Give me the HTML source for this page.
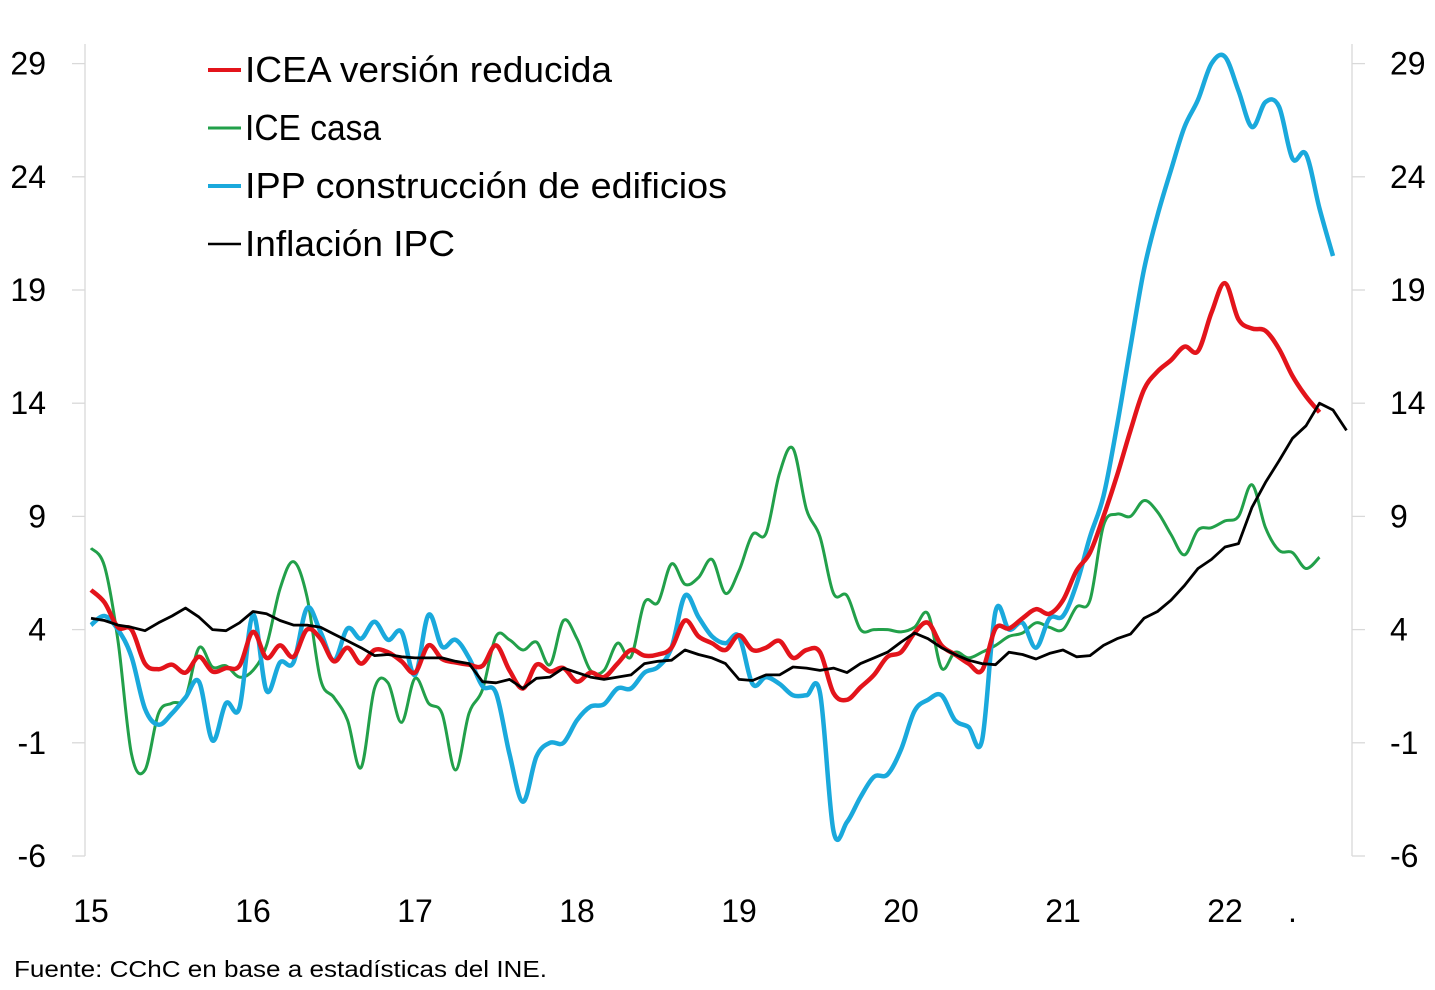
<!DOCTYPE html>
<html><head><meta charset="utf-8"><style>
html,body{margin:0;padding:0;background:#fff;}
svg{display:block;font-family:"Liberation Sans",sans-serif;}
</style></head><body>
<svg id="chart" width="1435" height="990" viewBox="0 0 1435 990" xmlns="http://www.w3.org/2000/svg">
<g id="axes"></g>
<g id="series"></g>
<g id="legend">
<line x1="208" y1="70" x2="241" y2="70" stroke="#e3141b" stroke-width="4"/>
<text x="245" y="82" font-size="36" textLength="367" lengthAdjust="spacingAndGlyphs">ICEA versión reducida</text>
<line x1="208" y1="128" x2="241" y2="128" stroke="#22a04a" stroke-width="3"/>
<text x="245" y="140" font-size="36" textLength="136" lengthAdjust="spacingAndGlyphs">ICE casa</text>
<line x1="208" y1="186" x2="241" y2="186" stroke="#1aa9dc" stroke-width="4"/>
<text x="245" y="198" font-size="36" textLength="482" lengthAdjust="spacingAndGlyphs">IPP construcción de edificios</text>
<line x1="208" y1="244" x2="241" y2="244" stroke="#000" stroke-width="2.5"/>
<text x="245" y="256" font-size="36" textLength="210" lengthAdjust="spacingAndGlyphs">Inflación IPC</text>
</g>
<text x="14" y="977" font-size="23" textLength="533" lengthAdjust="spacingAndGlyphs">Fuente: CChC en base a estadísticas del INE.</text>
</svg>
<script>
const yTicks = [-6, -1, 4, 9, 14, 19, 24, 29];
const xLabels = ["15","16","17","18","19","20","21","22","."];
const xLabelMonths = [0,12,24,36,48,60,72,84,89];
const icea = [5.75,5.2,4.1,4.0,2.5,2.25,2.45,2.1,2.8,2.15,2.3,2.4,3.9,2.75,3.3,2.8,4.0,3.6,2.6,3.2,2.5,3.1,3.0,2.6,2.1,3.3,2.7,2.55,2.45,2.4,3.3,2.2,1.4,2.45,2.15,2.3,1.7,2.1,1.9,2.5,3.1,2.85,2.9,3.2,4.4,3.7,3.4,3.1,3.75,3.1,3.2,3.5,2.75,3.1,3.0,1.2,0.9,1.45,2.0,2.8,3.0,3.85,4.3,3.3,2.9,2.5,2.2,4.05,4.05,4.5,4.9,4.7,5.3,6.6,7.4,9.0,10.8,12.8,14.6,15.4,15.9,16.5,16.3,18.0,19.3,17.7,17.3,17.2,16.4,15.2,14.3,13.6];
const iceCasa = [7.6,6.8,3.5,-1.5,-2.2,0.3,0.75,1.0,3.2,2.35,2.4,1.9,2.2,3.3,5.8,7.0,5.45,1.8,1.0,0.0,-2.1,1.4,1.65,-0.1,1.85,0.75,0.3,-2.2,0.3,1.35,3.7,3.55,3.1,3.45,2.45,4.4,3.6,2.2,2.2,3.4,2.8,5.2,5.2,6.9,6.0,6.3,7.1,5.6,6.6,8.2,8.25,10.9,12.0,9.3,8.1,5.6,5.5,4.0,4.0,4.0,3.9,4.1,4.7,2.3,3.0,2.75,3.0,3.3,3.7,3.85,4.3,4.1,4.0,5.0,5.3,8.6,9.1,9.0,9.7,9.2,8.2,7.3,8.4,8.5,8.8,9.0,10.4,8.5,7.5,7.4,6.7,7.2];
const ipp = [4.2,4.6,4.0,2.8,0.5,-0.2,0.3,1.0,1.7,-0.9,0.75,0.55,4.65,1.3,2.55,2.55,4.95,3.9,2.65,4.05,3.6,4.35,3.55,3.9,2.0,4.65,3.25,3.55,2.75,1.5,1.2,-1.5,-3.6,-1.6,-1.0,-1.0,0.0,0.6,0.7,1.4,1.4,2.1,2.35,3.2,5.5,4.55,3.7,3.4,3.7,1.6,1.9,1.6,1.1,1.1,1.2,-4.9,-4.5,-3.4,-2.5,-2.4,-1.3,0.4,0.9,1.1,0.0,-0.3,-0.9,4.8,4.0,4.3,3.2,4.5,4.6,6.0,8.1,9.9,13.0,16.5,19.9,22.3,24.3,26.2,27.4,29.0,29.3,27.8,26.2,27.3,27.1,24.8,25.0,22.6,20.5];
const ipc = [4.5,4.4,4.2,4.1,3.95,4.3,4.6,4.95,4.55,4.0,3.95,4.3,4.8,4.7,4.4,4.2,4.2,4.1,3.8,3.5,3.2,2.85,2.9,2.8,2.75,2.75,2.75,2.6,2.5,1.7,1.65,1.8,1.4,1.85,1.9,2.3,2.1,1.9,1.8,1.9,2.0,2.5,2.6,2.65,3.1,2.9,2.75,2.5,1.8,1.75,2.0,2.0,2.35,2.3,2.2,2.3,2.1,2.5,2.75,3.0,3.45,3.85,3.6,3.2,2.9,2.65,2.5,2.45,3.0,2.9,2.7,2.95,3.1,2.8,2.85,3.3,3.6,3.8,4.5,4.8,5.3,5.95,6.7,7.1,7.65,7.8,9.4,10.5,11.45,12.45,13.0,14.0,13.7,12.8];

const NS = "http://www.w3.org/2000/svg";
const X0 = 91, MONTH = 13.5, Y0 = 856, PX_PER_UNIT = 22.64, YMIN = -6;
function xScale(i){ return X0 + i * MONTH; }
function yScale(v){ return Y0 - (v - YMIN) * PX_PER_UNIT; }
function mk(tag, attrs, parent){
  const el = document.createElementNS(NS, tag);
  for (const k in attrs) el.setAttribute(k, attrs[k]);
  parent.appendChild(el);
  return el;
}
const axes = document.getElementById('axes');
const la = mk('line', {x1:85,y1:44,x2:85,y2:856,stroke:'#d9d9d9','stroke-width':1.3}, axes);


const ra = mk('line', {x1:1352,y1:44,x2:1352,y2:856,stroke:'#d9d9d9','stroke-width':1.3}, axes);


yTicks.forEach(function(t){
  const y = yScale(t);
  const tl = mk('line', {x1:72,y1:y,x2:85,y2:y,stroke:'#d9d9d9','stroke-width':1.3}, axes);
  
  
  const tr = mk('line', {x1:1352,y1:y,x2:1365,y2:y,stroke:'#d9d9d9','stroke-width':1.3}, axes);
  
  
  const l = mk('text', {x:46,y:y+11,'font-size':32,'text-anchor':'end'}, axes);
  l.textContent = t;
  
  
  const r = mk('text', {x:1390,y:y+11,'font-size':32}, axes);
  r.textContent = t;
  
  
});
xLabels.forEach(function(lab, k){
  const t = mk('text', {x:xScale(xLabelMonths[k]),y:922,'font-size':32,'text-anchor':'middle'}, axes);
  t.textContent = lab;
  
  
});
function smoothPath(vals){
  const p = vals.map(function(v,i){ return [xScale(i), yScale(v)]; });
  let d = 'M' + p[0][0].toFixed(1) + ',' + p[0][1].toFixed(1);
  for (let i = 0; i < p.length - 1; i++){
    const p0 = p[i-1] || p[i], p1 = p[i], p2 = p[i+1], p3 = p[i+2] || p2;
    const t = 0.17;
    const c1 = [p1[0] + (p2[0]-p0[0])*t, p1[1] + (p2[1]-p0[1])*t];
    const c2 = [p2[0] - (p3[0]-p1[0])*t, p2[1] - (p3[1]-p1[1])*t];
    d += ' C' + c1[0].toFixed(1)+','+c1[1].toFixed(1)+' '+c2[0].toFixed(1)+','+c2[1].toFixed(1)+' '+p2[0].toFixed(1)+','+p2[1].toFixed(1);
  }
  return d;
}
function linePath(vals){
  return vals.map(function(v,i){ return (i?'L':'M') + xScale(i).toFixed(1) + ',' + yScale(v).toFixed(1); }).join(' ');
}
const series = document.getElementById('series');
const sGreen = mk('path', {d:smoothPath(iceCasa),fill:'none',stroke:'#22a04a','stroke-width':3,'stroke-linejoin':'round'}, series);


const sBlue = mk('path', {d:smoothPath(ipp),fill:'none',stroke:'#1aa9dc','stroke-width':4.5,'stroke-linejoin':'round'}, series);


const sRed = mk('path', {d:smoothPath(icea),fill:'none',stroke:'#e3141b','stroke-width':4.5,'stroke-linejoin':'round'}, series);


const sBlack = mk('path', {d:linePath(ipc),fill:'none',stroke:'#000','stroke-width':2.8,'stroke-linejoin':'round'}, series);


</script>
</body></html>
